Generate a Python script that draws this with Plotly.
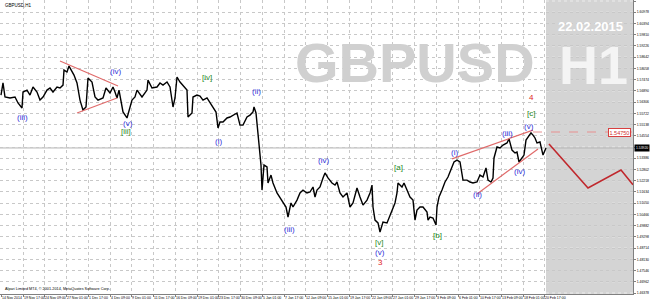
import plotly.graph_objects as go

# ---------------- data ----------------
bars = [1, 3, 5, 10, 15, 18, 22, 23, 27, 30, 33, 37, 40, 43, 47, 50, 53, 57, 60, 63,
        64, 67, 69, 72, 74, 77, 80, 83, 86, 88, 92, 95, 98, 103, 106, 110, 113, 115, 117, 119,
        121, 123, 127, 129, 132, 135, 137, 142, 147, 148, 152, 157, 160, 163, 167, 170, 172, 173, 175, 177,
        180, 183, 187, 188, 192, 193, 197, 200, 203, 207, 210, 213, 216, 218, 220, 223, 227, 230, 233, 237,
        240, 243, 247, 250, 253, 254, 256, 258, 260, 261, 262, 264, 267, 268, 271, 273, 277, 280, 283, 286,
        288, 291, 293, 297, 300, 303, 307, 310, 313, 315, 317, 320, 323, 325, 328, 332, 335, 337, 340, 343,
        347, 350, 353, 357, 360, 363, 367, 370, 372, 373, 375, 378, 380, 383, 387, 390, 393, 395, 397, 398,
        402, 404, 407, 410, 413, 415, 417, 420, 423, 427, 428, 430, 433, 436, 437, 439, 442, 445, 448, 452,
        454, 457, 460, 463, 467, 470, 473, 477, 480, 483, 486, 488, 491, 493, 494, 497, 500, 503, 507, 509,
        512, 515, 517, 519, 522, 524, 526, 528, 531, 533, 535, 537, 540, 543, 544, 546]
close = [1.5667, 1.5730, 1.5657, 1.5652, 1.5657, 1.5626, 1.5600, 1.5683, 1.5693, 1.5667,
         1.5709, 1.5683, 1.5641, 1.5657, 1.5693, 1.5704, 1.5683, 1.5709, 1.5704, 1.5719,
         1.5797, 1.5787, 1.5818, 1.5787, 1.5771, 1.5730, 1.5641, 1.5589, 1.5605, 1.5756,
         1.5735, 1.5657, 1.5641, 1.5652, 1.5704, 1.5678, 1.5709, 1.5683, 1.5652, 1.5693,
         1.5641, 1.5579, 1.5548, 1.5589, 1.5641, 1.5657, 1.5693, 1.5657, 1.5693, 1.5745,
         1.5704, 1.5709, 1.5730, 1.5719, 1.5735, 1.5709, 1.5641, 1.5605, 1.5652, 1.5761,
         1.5735, 1.5719, 1.5693, 1.5553, 1.5574, 1.5657, 1.5667, 1.5662, 1.5641, 1.5652,
         1.5626, 1.5605, 1.5579, 1.5496, 1.5527, 1.5527, 1.5548, 1.5553, 1.5563, 1.5574,
         1.5511, 1.5511, 1.5553, 1.5563, 1.5579, 1.5605, 1.5574, 1.5459, 1.5381, 1.5303,
         1.5173, 1.5303, 1.5293, 1.5210, 1.5251, 1.5210, 1.5158, 1.5132, 1.5106, 1.5085,
         1.5033, 1.5106, 1.5085, 1.5121, 1.5158, 1.5173, 1.5158, 1.5163, 1.5189, 1.5137,
         1.5173, 1.5189, 1.5236, 1.5262, 1.5236, 1.5210, 1.5199, 1.5215, 1.5158, 1.5137,
         1.5158, 1.5085, 1.5106, 1.5184, 1.5137, 1.5095, 1.5121, 1.5158, 1.5199, 1.5085,
         1.5017, 1.5002, 1.4955, 1.5007, 1.5002, 1.5043, 1.5085, 1.5106, 1.5158, 1.5210,
         1.5189, 1.5210, 1.5173, 1.5137, 1.5121, 1.5017, 1.5069, 1.5085, 1.5085, 1.5059,
         1.5017, 1.5033, 1.5028, 1.4991, 1.5085, 1.5137, 1.5173, 1.5215, 1.5241, 1.5288,
         1.5319, 1.5329, 1.5319, 1.5225, 1.5225, 1.5215, 1.5210, 1.5215, 1.5251, 1.5241,
         1.5288, 1.5225, 1.5215, 1.5236, 1.5340, 1.5397, 1.5392, 1.5407, 1.5418, 1.5439,
         1.5381, 1.5366, 1.5371, 1.5319, 1.5340, 1.5355, 1.5433, 1.5449, 1.5470, 1.5459,
         1.5444, 1.5418, 1.5423, 1.5355, 1.5371, 1.5392]

ytick_vals = [1.61562, 1.60978, 1.60394, 1.59810, 1.59226, 1.58642, 1.58058, 1.57474, 1.56890,
              1.56306, 1.55722, 1.55138, 1.54554, 1.53970, 1.53386, 1.52802, 1.52218, 1.51634,
              1.51050, 1.50466, 1.49882, 1.49298, 1.48714, 1.48130, 1.47546, 1.46962, 1.46378]
xtick_bars = [1, 23, 44, 66, 88, 110, 131, 153, 175, 197, 218, 240, 262, 284, 305, 327, 349,
              371, 392, 414, 436, 458, 479, 501, 523, 544]
xtick_labels = ["14 Nov 2014", "19 Nov 17:00", "24 Nov 09:00", "27 Nov 01:00", "1 Dec 17:00",
                "4 Dec 09:00", "9 Dec 01:00", "11 Dec 17:00", "16 Dec 09:00", "19 Dec 01:00",
                "23 Dec 17:00", "30 Dec 09:00", "5 Jan 01:00", "7 Jan 17:00", "12 Jan 09:00",
                "15 Jan 01:00", "19 Jan 17:00", "22 Jan 09:00", "27 Jan 01:00", "29 Jan 17:00",
                "3 Feb 09:00", "6 Feb 01:00", "10 Feb 17:00", "13 Feb 09:00", "18 Feb 01:00",
                "20 Feb 17:00"]

# Elliott wave labels: text, bar, price, degree
wave_text = ["(iii)", "(iv)", "(v)", "[iii]", "[iv]", "(i)", "(ii)", "(iii)", "(iv)", "[a]",
             "[v]", "(v)", "3", "[b]", "(i)", "(ii)", "(iii)", "(iv)", "(v)", "[c]", "4"]
wave_bar = [22, 115, 128, 126, 207, 218, 256, 289, 323, 398,
            379, 380, 380, 437, 454, 477, 507, 519, 529, 531, 531]
wave_price = [1.5548, 1.5792, 1.5519, 1.5477, 1.5761, 1.5425, 1.5688, 1.4967, 1.5329, 1.5293,
              1.4898, 1.4846, 1.4794, 1.4939, 1.5371, 1.5148, 1.5465, 1.5272, 1.5506, 1.5569, 1.5652]
wave_degree = ["minor", "minor", "minor", "inter", "inter", "minor", "minor", "minor", "minor", "inter",
               "inter", "minor", "primary", "inter", "minor", "minor", "minor", "minor", "minor", "inter",
               "primary"]

# trend lines (bar, price)
triangle_upper_bar = [60, 118]
triangle_upper_price = [1.5844, 1.5714]
triangle_lower_bar = [77, 117]
triangle_lower_price = [1.5574, 1.5652]
wedge_upper_bar = [452, 533]
wedge_upper_price = [1.5335, 1.5485]
wedge_lower_bar = [477, 538]
wedge_lower_price = [1.5153, 1.5387]

projection_bar = [549, 588, 621, 633]
projection_price = [1.5413, 1.5184, 1.5277, 1.5201]

target_price = 1.5475
target_start_bar = 533
future_start_bar = 546
x_end = 633
y_min, y_max = 1.46326, 1.61614

# ---------------- styles ----------------
FONT = "Liberation Sans"
deg_color = {"minor": "#3030d8", "inter": "#1f8a1f", "primary": "#e01e1e"}
trend_color = "#e06a6a"

fig = go.Figure()

# price
fig.add_trace(go.Scatter(x=bars, y=close, mode="lines",
                         line=dict(color="#000000", width=1.4), hoverinfo="skip"))

# trend lines
for bx, py in [(triangle_upper_bar, triangle_upper_price), (triangle_lower_bar, triangle_lower_price),
               (wedge_upper_bar, wedge_upper_price), (wedge_lower_bar, wedge_lower_price)]:
    fig.add_trace(go.Scatter(x=bx, y=py, mode="lines", line=dict(color=trend_color, width=1.2),
                             hoverinfo="skip"))

# target dashed line
fig.add_trace(go.Scatter(x=[target_start_bar, x_end], y=[target_price, target_price], mode="lines",
                         line=dict(color="#e89090", width=1, dash="dash"), hoverinfo="skip"))

# projection
fig.add_trace(go.Scatter(x=projection_bar, y=projection_price, mode="lines",
                         line=dict(color="#c0282d", width=1.6), hoverinfo="skip"))

shapes = [
    dict(type="rect", xref="x", yref="paper", x0=future_start_bar, x1=x_end, y0=0, y1=1,
         fillcolor="#d4d4d4", line=dict(width=0), layer="below"),
    dict(type="line", xref="x", yref="y", x0=0, x1=x_end, y0=close[-1], y1=close[-1],
         line=dict(color="#b4b4b4", width=1), layer="below"),
]
# lighter grid inside the shaded future zone
for v in ytick_vals:
    shapes.append(dict(type="line", xref="x", yref="y", x0=future_start_bar, x1=x_end, y0=v, y1=v,
                       line=dict(color="#ececec", width=1, dash="dot"), layer="below"))

annotations = []
# watermark
annotations.append(dict(text="<b>GBPUSD</b>", xref="paper", yref="paper", x=415.5 / 633, y=1 - 62 / 294,
                        showarrow=False, font=dict(family=FONT, size=56, color="#d0d0d0"),
                        xanchor="center", yanchor="middle"))
annotations.append(dict(text="<b>H1</b>", xref="paper", yref="paper", x=593 / 633, y=1 - 65 / 294,
                        showarrow=False, font=dict(family=FONT, size=54, color="#f4f4f4"),
                        xanchor="center", yanchor="middle"))
annotations.append(dict(text="<b>22.02.2015</b>", xref="paper", yref="paper", x=590 / 633, y=1 - 27 / 294,
                        showarrow=False, font=dict(family=FONT, size=13, color="#ffffff"),
                        xanchor="center", yanchor="middle"))
# corner texts
annotations.append(dict(text="GBPUSD,H1", xref="paper", yref="paper", x=0.004, y=0.995,
                        showarrow=False, font=dict(family=FONT, size=4.5, color="#000000"),
                        xanchor="left", yanchor="top"))
annotations.append(dict(text="Alpari Limited MT4, © 2001-2014, MetaQuotes Software Corp.", xref="paper",
                        yref="paper", x=0.004, y=0.004, showarrow=False,
                        font=dict(family=FONT, size=3.8, color="#000000"), xanchor="left", yanchor="bottom"))
# x tick labels (MT4 style, left aligned on tick)
for b, lab in zip(xtick_bars, xtick_labels):
    annotations.append(dict(text=lab, xref="x", yref="paper", x=b, y=0, showarrow=False,
                            font=dict(family=FONT, size=3.5, color="#000000"),
                            xanchor="left", yanchor="top", borderpad=0, yshift=-0.5))
# wave labels
for t, b, p, d in zip(wave_text, wave_bar, wave_price, wave_degree):
    annotations.append(dict(text=t, xref="x", yref="y", x=b, y=p, showarrow=False,
                            font=dict(family=FONT, size=8, color=deg_color[d]),
                            xanchor="center", yanchor="middle", borderpad=0))
# target label
annotations.append(dict(text="1.54750", xref="x", yref="y", x=619, y=target_price, showarrow=False,
                        font=dict(family=FONT, size=5.5, color="#d03030"), bgcolor="#ffffff",
                        bordercolor="#d84040", borderwidth=1, borderpad=0.5,
                        xanchor="center", yanchor="middle"))
# current price tag on axis
annotations.append(dict(text="%.5f" % close[-1], xref="paper", yref="y", x=1.0, y=close[-1], showarrow=False,
                        font=dict(family=FONT, size=3.4, color="#ffffff"), bgcolor="#000000",
                        borderpad=1, xanchor="left", yanchor="middle", xshift=1))

fig.update_layout(
    width=650, height=300,
    margin=dict(l=0, r=17, t=0, b=6, autoexpand=False),
    paper_bgcolor="#ffffff", plot_bgcolor="#ffffff",
    showlegend=False,
    shapes=shapes, annotations=annotations,
    xaxis=dict(range=[0, x_end], tickvals=xtick_bars, showticklabels=False, automargin=False,
               showgrid=True, gridcolor="#c8c8c8", griddash="dot", gridwidth=1,
               ticks="outside", ticklen=2, tickcolor="#808080",
               showline=True, linecolor="#808080", linewidth=1, mirror=True, zeroline=False,
               fixedrange=True),
    yaxis=dict(range=[y_min, y_max], side="right", tickvals=ytick_vals, automargin=False,
               ticktext=["%.5f" % v for v in ytick_vals],
               tickfont=dict(family=FONT, size=3.4, color="#000000"),
               showgrid=True, gridcolor="#c8c8c8", griddash="dot", gridwidth=1,
               ticks="outside", ticklen=2, tickcolor="#808080",
               showline=True, linecolor="#808080", linewidth=1, mirror=True, zeroline=False,
               fixedrange=True),
)

fig.write_html("out.html")
